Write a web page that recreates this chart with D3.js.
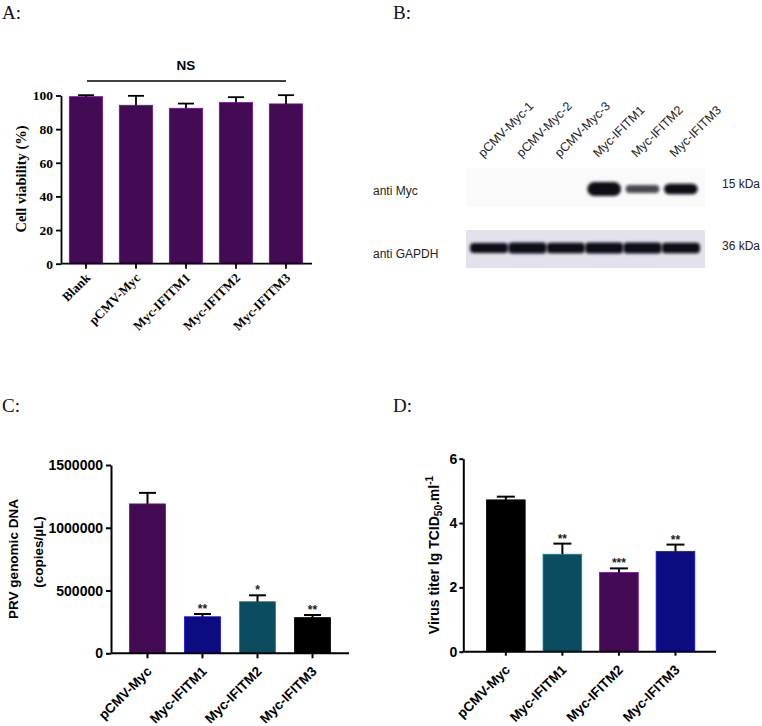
<!DOCTYPE html>
<html><head><meta charset="utf-8">
<script src="https://cdn.jsdelivr.net/npm/d3@7"></script>
<style>body{margin:0;background:#fff}svg{display:block}</style>
</head><body>
<svg id="c" width="762" height="726"></svg>
<script>
// ---------- Panel A data ----------
const catsA = ["Blank","pCMV-Myc","Myc-IFITM1","Myc-IFITM2","Myc-IFITM3"];
const meanA = [99.3, 94.2, 92.4, 95.8, 95.0];
const sdA   = [0.9, 5.6, 2.8, 3.2, 5.2];
const ticksA = [0,20,40,60,80,100];
// ---------- Panel B data ----------
const lanesB = ["pCMV-Myc-1","pCMV-Myc-2","pCMV-Myc-3","Myc-IFITM1","Myc-IFITM2","Myc-IFITM3"];
const mycBand   = [0, 0, 0, 1.0, 0.45, 0.7];
const gapdhBand = [0.8, 1.0, 0.95, 1.0, 1.0, 0.92];
const blotRows  = ["anti Myc","anti GAPDH"];
const blotSizes = ["15 kDa","36 kDa"];
// ---------- Panel C data ----------
const catsC = ["pCMV-Myc","Myc-IFITM1","Myc-IFITM2","Myc-IFITM3"];
const meanC = [1190000, 291000, 411000, 284000];
const sdC   = [88000, 22000, 51000, 21000];
const starsC = ["","**","*","**"];
const ticksC = [0,500000,1000000,1500000];
// ---------- Panel D data ----------
const catsD = ["pCMV-Myc","Myc-IFITM1","Myc-IFITM2","Myc-IFITM3"];
const meanD = [4.72, 3.03, 2.46, 3.12];
const sdD   = [0.10, 0.33, 0.13, 0.21];
const starsD = ["","**","***","**"];
const ticksD = [0,2,4,6];

const PURPLE = "#430b53", NAVY = "#0c0c80", TEAL = "#0b4c5e", BLACK = "#000000";
const colorsA = [PURPLE, PURPLE, PURPLE, PURPLE, PURPLE];
const colorsC = [PURPLE, NAVY, TEAL, BLACK];
const colorsD = [BLACK, TEAL, PURPLE, NAVY];

const SANS = "'Liberation Sans', Arial, sans-serif";
const SERIF = "'Liberation Serif', 'Times New Roman', serif";

const svg = d3.select("#c");
const defs = svg.append("defs");
defs.append("filter").attr("id","blur1").attr("x","-30%").attr("y","-100%").attr("width","160%").attr("height","300%")
  .append("feGaussianBlur").attr("stdDeviation", 1.4);
defs.append("filter").attr("id","blur2").attr("x","-30%").attr("y","-100%").attr("width","160%").attr("height","300%")
  .append("feGaussianBlur").attr("stdDeviation", 1.8);

// panel letters
[["A:",2,19],["B:",393,19],["C:",2,412],["D:",393,412]].forEach(([t,x,y]) => {
  svg.append("text").attr("x",x).attr("y",y).attr("font-family",SERIF).attr("font-size",19).attr("fill","#111").text(t);
});

function barPanel(o) {
  const g = svg.append("g");
  const x = d3.scaleBand().domain(o.cats).range(o.xr).paddingInner(o.pI).paddingOuter(o.pO);
  const y = d3.scaleLinear().domain([0, o.ymax]).range(o.yr);
  const bw = x.bandwidth();
  g.selectAll("rect.bar").data(o.cats).join("rect")
    .attr("x", d => x(d)).attr("width", bw)
    .attr("y", (d,i) => y(o.mean[i])).attr("height", (d,i) => y(0) - y(o.mean[i]))
    .attr("fill", (d,i) => o.colors[i])
    .attr("stroke", (d,i) => d3.color(o.colors[i]).brighter(1.6).formatHex())
    .attr("stroke-width", 0.8);
  o.cats.forEach((c,i) => {
    const cx = x(c) + bw/2, top = y(o.mean[i] + o.sd[i]);
    g.append("line").attr("x1",cx).attr("x2",cx).attr("y1",y(o.mean[i])).attr("y2",top)
      .attr("stroke","#000").attr("stroke-width",o.ew);
    g.append("line").attr("x1",cx-o.cap).attr("x2",cx+o.cap).attr("y1",top).attr("y2",top)
      .attr("stroke","#000").attr("stroke-width",o.ew);
    if (o.stars && o.stars[i]) {
      g.append("text").attr("x",cx).attr("y",top - 1).attr("text-anchor","middle")
        .attr("font-family",SANS).attr("font-weight","bold").attr("font-size",12).attr("fill","#222")
        .text(o.stars[i]);
    }
  });
  const ya = g.append("g").attr("transform",`translate(${o.xr[0]},0)`)
    .call(d3.axisLeft(y).tickValues(o.ticks).tickSize(o.ts).tickPadding(o.tp).tickSizeOuter(0).tickFormat(d3.format("d")));
  ya.selectAll("path,line").attr("stroke","#000").attr("stroke-width",o.aw);
  ya.selectAll("text").attr("font-family",o.font).attr("font-weight","bold").attr("font-size",o.fs).attr("fill","#000");
  const xa = g.append("g").attr("transform",`translate(0,${o.yr[0]})`)
    .call(d3.axisBottom(x).tickSize(o.ts).tickSizeOuter(0).tickFormat(""));
  xa.select("path").attr("d",`M${o.xr[0]},0H${o.xaxEnd}`);
  xa.selectAll("path,line").attr("stroke","#000").attr("stroke-width",o.aw);
  g.selectAll("text.xl").data(o.cats).join("text").attr("class","xl")
    .attr("transform", d => `translate(${x(d)+bw/2+o.lx},${o.yr[0]+o.ly}) rotate(-45)`)
    .attr("text-anchor","end").attr("font-family",o.font).attr("font-weight","bold").attr("font-size",o.lfs).attr("fill","#000")
    .text(d => d);
  return {g, x, y, bw, ya};
}

// ---------- Panel A ----------
const pA = barPanel({cats:catsA, mean:meanA, sd:sdA, colors:colorsA, ticks:ticksA, ymax:100,
  xr:[61,311], yr:[263.7,95.5], pI:1/3, pO:1/6, xaxEnd:312, ew:1.8, cap:8, aw:1.8, ts:5, tp:3,
  font:SERIF, fs:13.5, lfs:13, lx:5, ly:15});
pA.g.append("text").attr("transform","translate(26,179) rotate(-90)").attr("text-anchor","middle")
  .attr("font-family",SERIF).attr("font-weight","bold").attr("font-size",14.5).text("Cell viability (%)");
{
  const nsY = pA.y(100) - 14.5;
  const xs = pA.x(catsA[0]) + pA.bw/2, xe = pA.x(catsA[catsA.length-1]) + pA.bw/2;
  pA.g.append("line").attr("x1",xs+1).attr("x2",xe).attr("y1",nsY).attr("y2",nsY).attr("stroke","#000").attr("stroke-width",1.5);
  pA.g.append("text").attr("x",(xs+xe)/2).attr("y",nsY-11).attr("text-anchor","middle")
    .attr("font-family",SANS).attr("font-weight","bold").attr("font-size",13.5).text("NS");
}

// ---------- Panel B (western blot) ----------
{
  const g = svg.append("g");
  const lane = d3.scaleBand().domain(lanesB).range([470,700]);
  const lw = lane.bandwidth();
  const boxX = [466,705];
  const rows = [{y0:168,y1:207,bg:"#fafafa",bands:mycBand,cy:189,kind:"myc"},
                {y0:230,y1:268,bg:"#e3e1eb",bands:gapdhBand,cy:248,kind:"gapdh"}];
  rows.forEach((r,ri) => {
    g.append("rect").attr("x",boxX[0]).attr("y",r.y0).attr("width",boxX[1]-boxX[0]).attr("height",r.y1-r.y0).attr("fill",r.bg);
    const hgt = d => r.kind==="myc" ? 3+11*d.v : 5+6*d.v;
    g.selectAll(null).data(lanesB.map((l,i)=>({l, v:r.bands[i]})).filter(d=>d.v>0)).join("rect")
      .attr("x", d => lane(d.l) + (r.kind==="myc" ? lw*0.06 : lw*0.0))
      .attr("width", r.kind==="myc" ? lw*0.88 : lw*1.0)
      .attr("y", d => r.cy - hgt(d)/2)
      .attr("height", hgt)
      .attr("rx", d => r.kind==="myc" ? hgt(d)/2 : 4)
      .attr("fill", "#0a0a12").attr("opacity", d => Math.min(1, 0.3 + d.v))
      .attr("filter", r.kind==="myc" ? "url(#blur1)" : "url(#blur2)");
    g.append("text").attr("x",373).attr("y",[195,258][ri]).attr("font-family",SANS).attr("font-size",12).attr("fill","#222").text(blotRows[ri]);
    g.append("text").attr("x",722).attr("y",[188,250][ri]).attr("font-family",SANS).attr("font-size",12).attr("fill","#222").text(blotSizes[ri]);
  });
  g.selectAll("text.lane").data(lanesB).join("text").attr("class","lane")
    .attr("transform", d => `translate(${lane(d)+lw/2-6},158) rotate(-45)`)
    .attr("font-family",SANS).attr("font-size",12.5).attr("fill","#222").text(d => d);
}

// ---------- Panel C ----------
const pC = barPanel({cats:catsC, mean:meanC, sd:sdC, stars:starsC, colors:colorsC, ticks:ticksC, ymax:1500000,
  xr:[111,349], yr:[653.3,465], pI:0.345, pO:0.336, xaxEnd:349, ew:2, cap:8.5, aw:2, ts:5, tp:3,
  font:SANS, fs:14, lfs:13.5, lx:5, ly:19});
pC.g.append("text").attr("transform","translate(18,559) rotate(-90)").attr("text-anchor","middle")
  .attr("font-family",SANS).attr("font-weight","bold").attr("font-size",13.5).text("PRV genomic DNA");
pC.g.append("text").attr("transform","translate(43,552) rotate(-90)").attr("text-anchor","middle")
  .attr("font-family",SANS).attr("font-weight","bold").attr("font-size",13.5).text("(copies/µL)");

// ---------- Panel D ----------
const pD = barPanel({cats:catsD, mean:meanD, sd:sdD, stars:starsD, colors:colorsD, ticks:ticksD, ymax:6,
  xr:[463.3,718], yr:[651.7,458.7], pI:0.316, pO:0.41, xaxEnd:716, ew:2, cap:9, aw:2, ts:4, tp:2,
  font:SANS, fs:14, lfs:13.5, lx:5, ly:19});
{
  const t = pD.g.append("text").attr("transform","translate(439,555) rotate(-90)").attr("text-anchor","middle")
    .attr("font-family",SANS).attr("font-weight","bold").attr("font-size",14);
  t.append("tspan").text("Virus titer lg TCID");
  t.append("tspan").attr("font-size",10).attr("dy",3).text("50");
  t.append("tspan").attr("dy",-3).text(".ml");
  t.append("tspan").attr("font-size",10).attr("dy",-6).text("-1");
}
</script>
</body></html>
